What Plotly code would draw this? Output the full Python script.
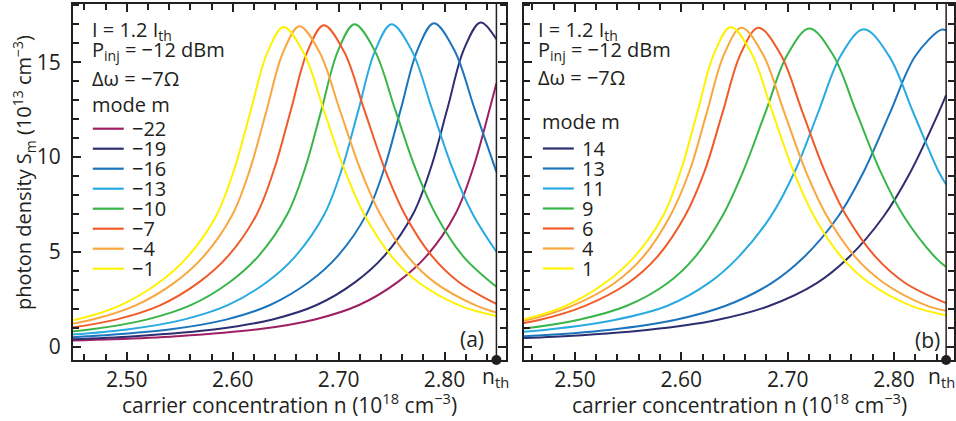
import plotly.graph_objects as go

# ---------------- data ----------------
N_TH = 2.849                      # threshold carrier concentration (x of the dot)
X_RANGE_A = [2.449, 2.858]
X_RANGE_B = [2.452, 2.8564]
Y_RANGE = [-0.70, 18.07]
X_TICKS = [2.50, 2.60, 2.70, 2.80]
Y_TICKS = [0, 5, 10, 15]

MODES_A = [-22, -19, -16, -13, -10, -7, -4, -1]
MODES_B = [14, 13, 11, 9, 6, 4, 1]

# panel (a)
n_a_m22 = [2.3385, 2.4277, 2.4872, 2.5467, 2.6241, 2.6776, 2.7193, 2.756, 2.7833, 2.8104, 2.8272, 2.8428, 2.849]
s_a_m22 = [0.21, 0.30, 0.39, 0.55, 0.92, 1.44, 2.20, 3.42, 4.80, 7.01, 9.45, 12.57, 13.89]
n_a_m19 = [2.3877, 2.4472, 2.5067, 2.5841, 2.6376, 2.6793, 2.716, 2.7433, 2.7704, 2.7872, 2.8028, 2.8184, 2.834, 2.849]
s_a_m19 = [0.30, 0.39, 0.55, 0.92, 1.44, 2.20, 3.42, 4.80, 7.01, 9.45, 12.57, 15.69, 17.10, 16.21]
n_a_m16 = [2.4032, 2.4627, 2.5401, 2.5936, 2.6353, 2.672, 2.6993, 2.7264, 2.7432, 2.7588, 2.7744, 2.790, 2.8092, 2.8284, 2.849]
s_a_m16 = [0.39, 0.55, 0.91, 1.43, 2.20, 3.41, 4.79, 6.99, 9.42, 12.54, 15.64, 17.05, 15.64, 12.54, 9.22]
n_a_m13 = [2.4227, 2.5001, 2.5536, 2.5953, 2.632, 2.6593, 2.6864, 2.7032, 2.7188, 2.7344, 2.750, 2.7692, 2.7884, 2.8076, 2.8268, 2.849]
s_a_m13 = [0.54, 0.91, 1.43, 2.19, 3.40, 4.78, 6.97, 9.39, 12.50, 15.60, 17.00, 15.60, 12.50, 9.39, 6.97, 5.01]
n_a_m10 = [2.3877, 2.4651, 2.5186, 2.5603, 2.597, 2.6243, 2.6514, 2.6682, 2.6838, 2.6994, 2.715, 2.7342, 2.7534, 2.7726, 2.7918, 2.8174, 2.849]
s_a_m10 = [0.54, 0.91, 1.43, 2.19, 3.40, 4.78, 6.97, 9.39, 12.50, 15.60, 17.00, 15.60, 12.50, 9.39, 6.97, 4.78, 3.16]
n_a_m7 = [2.4361, 2.4896, 2.5313, 2.568, 2.5953, 2.6224, 2.6392, 2.6548, 2.6704, 2.686, 2.7052, 2.7244, 2.7436, 2.7628, 2.7884, 2.814, 2.849]
s_a_m7 = [0.91, 1.43, 2.18, 3.39, 4.76, 6.95, 9.37, 12.46, 15.55, 16.95, 15.55, 12.46, 9.37, 6.95, 4.76, 3.39, 2.26]
n_a_m4 = [2.4131, 2.4666, 2.5083, 2.545, 2.5723, 2.5994, 2.6162, 2.6318, 2.6474, 2.663, 2.6822, 2.7014, 2.7206, 2.7398, 2.7654, 2.791, 2.8294, 2.849]
s_a_m4 = [0.91, 1.42, 2.18, 3.38, 4.75, 6.93, 9.34, 12.43, 15.50, 16.90, 15.50, 12.43, 9.34, 6.93, 4.75, 3.38, 2.18, 1.80]
n_a_m1 = [2.3981, 2.4516, 2.4933, 2.530, 2.5573, 2.5844, 2.6012, 2.6168, 2.6324, 2.648, 2.6672, 2.6864, 2.7056, 2.7248, 2.7504, 2.776, 2.8144, 2.849]
s_a_m1 = [0.90, 1.42, 2.17, 3.37, 4.74, 6.91, 9.32, 12.40, 15.47, 16.86, 15.47, 12.40, 9.32, 6.91, 4.74, 3.37, 2.17, 1.62]

# panel (b)
n_b_14 = [2.3455, 2.4805, 2.5696, 2.6323, 2.6824, 2.727, 2.757, 2.7898, 2.8156, 2.8414, 2.849]
s_b_14 = [0.29, 0.53, 0.90, 1.40, 2.15, 3.34, 4.69, 6.84, 9.23, 12.28, 13.26]
n_b_13 = [2.3195, 2.4485, 2.5337, 2.5937, 2.6417, 2.6845, 2.7149, 2.7473, 2.7716, 2.7959, 2.8202, 2.8445, 2.849]
s_b_13 = [0.29, 0.54, 0.90, 1.41, 2.16, 3.34, 4.70, 6.85, 9.24, 12.29, 15.34, 16.72, 16.68]
n_b_11 = [2.3811, 2.4734, 2.5373, 2.587, 2.6256, 2.6532, 2.684, 2.7068, 2.7284, 2.75, 2.7716, 2.795, 2.8184, 2.8418, 2.849]
s_b_11 = [0.54, 0.90, 1.41, 2.16, 3.35, 4.70, 6.86, 9.25, 12.31, 15.36, 16.74, 15.36, 12.31, 9.25, 8.55]
n_b_9 = [2.3574, 2.4432, 2.5026, 2.5488, 2.5872, 2.6126, 2.6385, 2.6583, 2.679, 2.6997, 2.7204, 2.7426, 2.7648, 2.787, 2.8092, 2.8388, 2.849]
s_b_9 = [0.54, 0.90, 1.41, 2.16, 3.36, 4.71, 6.88, 9.27, 12.34, 15.39, 16.78, 15.39, 12.34, 9.27, 6.88, 4.71, 4.20]
n_b_6 = [2.41, 2.4662, 2.51, 2.5501, 2.5771, 2.6034, 2.6221, 2.6389, 2.6557, 2.6725, 2.6932, 2.7139, 2.7346, 2.7553, 2.7829, 2.8105, 2.849]
s_b_6 = [0.90, 1.41, 2.17, 3.36, 4.72, 6.89, 9.29, 12.37, 15.43, 16.82, 15.43, 12.37, 9.29, 6.89, 4.72, 3.36, 2.30]
n_b_4 = [2.4003, 2.4552, 2.4979, 2.5373, 2.5639, 2.5895, 2.6079, 2.6241, 2.6403, 2.6565, 2.6766, 2.6967, 2.7168, 2.7369, 2.7637, 2.7905, 2.8307, 2.849]
s_b_4 = [0.90, 1.41, 2.17, 3.36, 4.72, 6.89, 9.29, 12.37, 15.43, 16.82, 15.43, 12.37, 9.29, 6.89, 4.72, 3.36, 2.17, 1.90]
n_b_1 = [2.3966, 2.4501, 2.4918, 2.5285, 2.5558, 2.5829, 2.5997, 2.6153, 2.6309, 2.6465, 2.666, 2.6855, 2.705, 2.7245, 2.7505, 2.7765, 2.8155, 2.849]
s_b_1 = [0.90, 1.42, 2.17, 3.37, 4.74, 6.91, 9.32, 12.40, 15.47, 16.86, 15.47, 12.40, 9.32, 6.91, 4.74, 3.37, 2.17, 1.66]

CURVES_A = [(n_a_m22, s_a_m22), (n_a_m19, s_a_m19), (n_a_m16, s_a_m16), (n_a_m13, s_a_m13),
            (n_a_m10, s_a_m10), (n_a_m7, s_a_m7), (n_a_m4, s_a_m4), (n_a_m1, s_a_m1)]
CURVES_B = [(n_b_14, s_b_14), (n_b_13, s_b_13), (n_b_11, s_b_11), (n_b_9, s_b_9),
            (n_b_6, s_b_6), (n_b_4, s_b_4), (n_b_1, s_b_1)]

COLORS_A = ['#9e1f63', '#2e2d70', '#1c75bc', '#29abe2', '#39b54a', '#f15a29', '#f9a73e', '#fff200']
COLORS_B = ['#2e2d70', '#1c75bc', '#29abe2', '#39b54a', '#f15a29', '#f9a73e', '#fff200']

# ---------------- layout constants ----------------
W, H = 956, 421
INK = '#231f20'
FONT = 'Open Sans'
FS = 20        # in-panel text
FS_TICK = 21   # tick labels
FS_TITLE = 21  # axis titles


def px(x):
    return x / W


def py(y):
    return 1 - y / H


def label(m):
    return str(m).replace('-', '\u2212')


fig = go.Figure()

for (n, s), c in zip(CURVES_A, COLORS_A):
    fig.add_trace(go.Scatter(x=n, y=s, mode='lines', line=dict(color=c, width=2, shape='spline'),
                             xaxis='x', yaxis='y', showlegend=False, hoverinfo='skip'))
for (n, s), c in zip(CURVES_B, COLORS_B):
    fig.add_trace(go.Scatter(x=n, y=s, mode='lines', line=dict(color=c, width=2, shape='spline'),
                             xaxis='x2', yaxis='y2', showlegend=False, hoverinfo='skip'))

# threshold dots on the x axes
for xa, ya in (('x', 'y'), ('x2', 'y2')):
    fig.add_trace(go.Scatter(x=[N_TH], y=[Y_RANGE[0]], mode='markers', cliponaxis=False,
                             marker=dict(color=INK, size=10), xaxis=xa, yaxis=ya,
                             showlegend=False, hoverinfo='skip'))


def xaxis(domain, rng):
    return dict(domain=domain, range=rng, showline=True, linecolor=INK, linewidth=2, mirror='ticks',
                ticks='inside', ticklen=8, tickwidth=1.5, tickcolor=INK,
                tickmode='array', tickvals=X_TICKS, ticktext=['%.2f' % t for t in X_TICKS],
                minor=dict(ticks='inside', ticklen=6, tickwidth=1.5, tickcolor=INK, dtick=0.02, tick0=2.5),
                showgrid=False, zeroline=False, tickfont=dict(family=FONT, size=FS_TICK, color=INK))


def yaxis(anchor, labels):
    return dict(domain=[py(360), py(4)], range=Y_RANGE, anchor=anchor, showline=True, linecolor=INK,
                linewidth=2, mirror='ticks', ticks='inside', ticklen=8, tickwidth=1.5, tickcolor=INK,
                tickmode='array', tickvals=Y_TICKS, showticklabels=labels, ticklabelstandoff=6,
                minor=dict(ticks='inside', ticklen=6, tickwidth=1.5, tickcolor=INK, dtick=1, tick0=0),
                showgrid=False, zeroline=False, tickfont=dict(family=FONT, size=FS_TICK, color=INK))


fig.update_layout(
    width=W, height=H, autosize=False,
    margin=dict(l=0, r=0, t=0, b=0, pad=0),
    paper_bgcolor='white', plot_bgcolor='white',
    font=dict(family=FONT, size=FS, color=INK),
    xaxis=xaxis([px(73), px(507)], X_RANGE_A) | dict(anchor='y'),
    xaxis2=xaxis([px(525), 1.0], X_RANGE_B) | dict(anchor='y2'),
    yaxis=yaxis('x', True),
    yaxis2=yaxis('x2', False),
)

shapes = []
ann = []


def text(x, y, t, xanchor='left', size=FS, **kw):
    d = dict(x=x, y=y, xref='paper', yref='paper', text=t, showarrow=False,
             xanchor=xanchor, yanchor='middle', font=dict(family=FONT, size=size, color=INK))
    d.update(kw)
    ann.append(d)


# threshold lines + n_th labels
for xa, ya, shift in (('x', 'y', -1), ('x2', 'y2', -5)):
    shapes.append(dict(type='line', xref=xa, yref=ya + ' domain', x0=N_TH, x1=N_TH, y0=0, y1=1,
                       line=dict(color=INK, width=1.5)))
    ann.append(dict(x=N_TH, y=py(377), xref=xa, yref='paper', text='n<sub>th</sub>', showarrow=False,
                    xanchor='center', yanchor='middle', xshift=shift,
                    font=dict(family=FONT, size=FS_TICK, color=INK)))

# axis titles
text(px(24), py(172), 'photon density S<sub>m</sub> (10<sup>13</sup> cm<sup>\u22123</sup>)',
     xanchor='center', size=20, textangle=-90)
text(px(290), py(403), 'carrier concentration n (10<sup>18</sup> cm<sup>\u22123</sup>)',
     xanchor='center', size=FS_TITLE)
text(px(741), py(403), 'carrier concentration n (10<sup>18</sup> cm<sup>\u22123</sup>)',
     xanchor='center', size=FS_TITLE)

# panel letters
text(px(473), py(339), '(a)', xanchor='center', size=FS_TICK)
text(px(929), py(340), '(b)', xanchor='center', size=FS_TICK)

# parameter blocks
HEAD = ['I = 1.2 I<sub>th</sub>', 'P<sub>inj</sub> = \u221212 dBm', '\u0394\u03c9 = \u22127\u03a9']
for x0, ys in ((90, (30, 51, 79)), (537, (30, 51, 78))):
    for t, y in zip(HEAD, ys):
        text(px(x0), py(y), t)
text(px(90), py(105), 'mode m')
text(px(541), py(121), 'mode m')

# legends
ROW = 20
for modes, colors, top, lx0 in ((MODES_A, COLORS_A, 128.7, 93), (MODES_B, COLORS_B, 148.5, 544)):
    for i, (m, c) in enumerate(zip(modes, colors)):
        y = top + ROW * i
        shapes.append(dict(type='line', xref='paper', yref='paper', x0=px(lx0), x1=px(lx0 + 31),
                           y0=py(y), y1=py(y), line=dict(color=c, width=2.2)))
        text(px(lx0 + 37), py(y), label(m))

fig.update_layout(shapes=shapes, annotations=ann)
fig.write_html('out.html', config=dict(displayModeBar=False),
               post_script="document.body.style.margin='0';document.body.style.overflow='hidden';")
